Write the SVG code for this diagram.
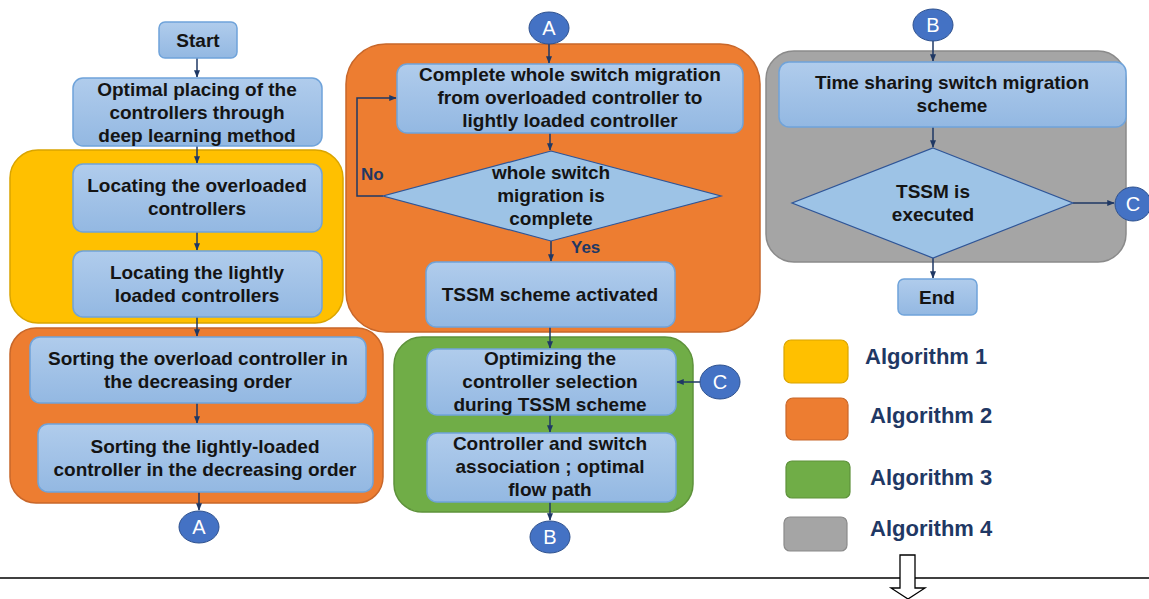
<svg xmlns="http://www.w3.org/2000/svg" width="1149" height="599" viewBox="0 0 1149 599">
<defs>
<linearGradient id="bx" x1="0" y1="0" x2="0" y2="1">
<stop offset="0" stop-color="#B0CCEC"/>
<stop offset="1" stop-color="#93B8E2"/>
</linearGradient>
<marker id="ah" viewBox="0 0 10 10" refX="9" refY="5" markerWidth="5" markerHeight="5" orient="auto" markerUnits="strokeWidth">
<path d="M0,1 L10,5 L0,9 z" fill="#1F3864"/>
</marker>
</defs>
<style>
.box{fill:url(#bx);stroke:#6FA3DA;stroke-width:1.5}
.dia{fill:#9DC3E6;stroke:#2F5597;stroke-width:1.2}
.t{font-family:"Liberation Sans",Arial,sans-serif;font-weight:bold;font-size:19px;fill:#141414;text-anchor:middle}
.lab{font-family:"Liberation Sans",Arial,sans-serif;font-weight:bold;font-size:17px;fill:#1F3864}
.leg{font-family:"Liberation Sans",Arial,sans-serif;font-weight:bold;font-size:22px;fill:#1F3864}
.circ{fill:#4472C4;stroke:#2F528F;stroke-width:1}
.ct{font-family:"Liberation Sans",Arial,sans-serif;font-size:20px;fill:#FFFFFF;text-anchor:middle}
.con{fill:none;stroke:#1F3864;stroke-width:1.5;marker-end:url(#ah)}
</style>
<rect width="1149" height="599" fill="#FFFFFF"/>

<!-- containers -->
<g id="alg1-container"><rect x="10" y="150" width="333" height="173" rx="28" fill="#FFC000" stroke="#D9A400" stroke-width="1.5"/></g>
<g id="alg2-container-left"><rect x="10" y="328" width="373" height="175" rx="26" fill="#ED7D31" stroke="#C8672A" stroke-width="1.5"/></g>
<g id="alg2-container-mid"><rect x="346" y="44" width="414" height="288" rx="40" fill="#ED7D31" stroke="#C8672A" stroke-width="1.5"/></g>
<g id="alg3-container"><rect x="394" y="337" width="299" height="175" rx="28" fill="#70AD47" stroke="#5E923B" stroke-width="1.5"/></g>
<g id="alg4-container"><rect x="766" y="51" width="360" height="211" rx="28" fill="#A5A5A5" stroke="#8A8A8A" stroke-width="1.5"/></g>

<!-- connectors -->
<g id="connectors">
<line class="con" x1="197" y1="58" x2="197" y2="77"/>
<line class="con" x1="197" y1="146" x2="197" y2="163"/>
<line class="con" x1="197" y1="232" x2="197" y2="250"/>
<line class="con" x1="197" y1="317" x2="197" y2="336"/>
<line class="con" x1="197" y1="403" x2="197" y2="423"/>
<line class="con" x1="199" y1="492" x2="199" y2="510"/>
<line class="con" x1="549" y1="44" x2="549" y2="63"/>
<line class="con" x1="550" y1="133" x2="550" y2="150"/>
<polyline class="con" points="383,196 357,196 357,98 396,98"/>
<line class="con" x1="551" y1="241" x2="551" y2="261"/>
<line class="con" x1="550" y1="327" x2="550" y2="348"/>
<line class="con" x1="550" y1="415" x2="550" y2="432"/>
<line class="con" x1="550" y1="502" x2="550" y2="520"/>
<line class="con" x1="700" y1="382" x2="677" y2="382"/>
<line class="con" x1="933" y1="41" x2="933" y2="61"/>
<line class="con" x1="933" y1="127" x2="933" y2="147"/>
<line class="con" x1="1073" y1="203" x2="1114" y2="203"/>
<line class="con" x1="933" y1="258" x2="933" y2="278"/>
</g>

<!-- nodes -->
<g id="start"><rect class="box" x="159" y="22" width="78" height="36" rx="6"/><text class="t" x="198" y="47">Start</text></g>
<g id="optimal-placing"><rect class="box" x="73" y="78" width="249" height="68" rx="10"/>
<text class="t" x="197" y="96">Optimal placing of the</text>
<text class="t" x="197" y="119">controllers through</text>
<text class="t" x="197" y="142">deep learning method</text></g>
<g id="locate-overloaded"><rect class="box" x="73" y="164" width="249" height="68" rx="10"/>
<text class="t" x="197" y="192">Locating the overloaded</text>
<text class="t" x="197" y="215">controllers</text></g>
<g id="locate-lightly"><rect class="box" x="73" y="251" width="249" height="66" rx="10"/>
<text class="t" x="197" y="279">Locating the lightly</text>
<text class="t" x="197" y="302">loaded controllers</text></g>
<g id="sort-overload"><rect class="box" x="30" y="337" width="336" height="66" rx="10"/>
<text class="t" x="198" y="365">Sorting the overload controller in</text>
<text class="t" x="198" y="388">the decreasing order</text></g>
<g id="sort-lightly"><rect class="box" x="38" y="424" width="335" height="68" rx="10"/>
<text class="t" x="205" y="453">Sorting the lightly-loaded</text>
<text class="t" x="205" y="476">controller in the decreasing order</text></g>
<g id="conn-A-out"><ellipse class="circ" cx="199" cy="527" rx="20" ry="16"/><text class="ct" x="199" y="534">A</text></g>

<g id="conn-A-in"><ellipse class="circ" cx="549" cy="28" rx="20" ry="16"/><text class="ct" x="549" y="35">A</text></g>
<g id="complete-migration"><rect class="box" x="397" y="64" width="346" height="69" rx="10"/>
<text class="t" x="570" y="81">Complete whole switch migration</text>
<text class="t" x="570" y="104">from overloaded controller to</text>
<text class="t" x="570" y="127">lightly loaded controller</text></g>
<g id="migration-complete"><polygon class="dia" points="551,151 721,196 551,241 383,196"/>
<text class="t" x="551" y="179">whole switch</text>
<text class="t" x="551" y="202">migration is</text>
<text class="t" x="551" y="225">complete</text></g>
<text class="lab" x="361" y="180">No</text>
<text class="lab" x="571" y="253">Yes</text>
<g id="tssm-activated"><rect class="box" x="426" y="262" width="249" height="65" rx="10"/>
<text class="t" x="550" y="301">TSSM scheme activated</text></g>

<g id="optimizing"><rect class="box" x="427" y="349" width="249" height="66" rx="10"/>
<text class="t" x="550" y="365">Optimizing the</text>
<text class="t" x="550" y="388">controller selection</text>
<text class="t" x="550" y="411">during TSSM scheme</text></g>
<g id="association"><rect class="box" x="427" y="433" width="249" height="69" rx="10"/>
<text class="t" x="550" y="450">Controller and switch</text>
<text class="t" x="550" y="473">association ; optimal</text>
<text class="t" x="550" y="496">flow path</text></g>
<g id="conn-C-in"><ellipse class="circ" cx="720" cy="382" rx="20" ry="17"/><text class="ct" x="720" y="389">C</text></g>
<g id="conn-B-out"><ellipse class="circ" cx="550" cy="537" rx="20" ry="16"/><text class="ct" x="550" y="544">B</text></g>

<g id="conn-B-in"><ellipse class="circ" cx="933" cy="25" rx="20" ry="16"/><text class="ct" x="933" y="32">B</text></g>
<g id="time-sharing"><rect class="box" x="779" y="62" width="347" height="65" rx="10"/>
<text class="t" x="952" y="89">Time sharing switch migration</text>
<text class="t" x="952" y="112">scheme</text></g>
<g id="tssm-executed"><polygon class="dia" points="933,148 1073,203 933,258 792,203"/>
<text class="t" x="933" y="198">TSSM is</text>
<text class="t" x="933" y="221">executed</text></g>
<g id="conn-C-out"><ellipse class="circ" cx="1133" cy="204" rx="18" ry="17"/><text class="ct" x="1133" y="211">C</text></g>
<g id="end"><rect class="box" x="898" y="279" width="79" height="36" rx="6"/><text class="t" x="937" y="304">End</text></g>

<!-- legend -->
<g id="legend">
<rect x="784" y="340" width="64" height="43" rx="7" fill="#FFC000" stroke="#D9A400" stroke-width="1.2"/>
<text class="leg" x="865" y="364">Algorithm 1</text>
<rect x="786" y="398" width="62" height="42" rx="7" fill="#ED7D31" stroke="#C8672A" stroke-width="1.2"/>
<text class="leg" x="870" y="423">Algorithm 2</text>
<rect x="786" y="461" width="64" height="37" rx="6" fill="#70AD47" stroke="#5E923B" stroke-width="1.2"/>
<text class="leg" x="870" y="485">Algorithm 3</text>
<rect x="784" y="517" width="63" height="34" rx="6" fill="#A5A5A5" stroke="#8A8A8A" stroke-width="1.2"/>
<text class="leg" x="870" y="536">Algorithm 4</text>
</g>

<line x1="0" y1="578" x2="1149" y2="578" stroke="#000000" stroke-width="1.3"/>
<path d="M900,555 L915,555 L915,588 L925,588 L908,599 L891,588 L900,588 Z" fill="#FFFFFF" stroke="#000000" stroke-width="1.3"/>
</svg>
